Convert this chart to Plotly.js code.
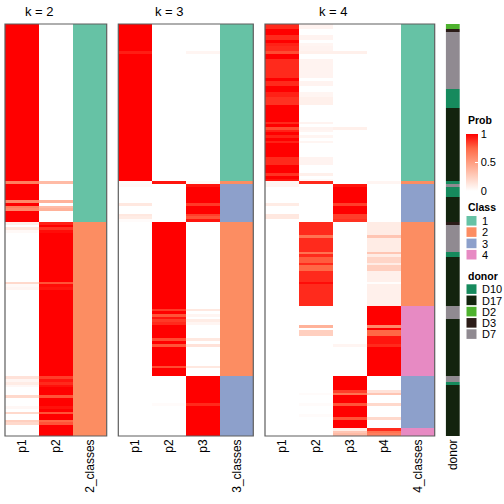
<!DOCTYPE html>
<html>
<head>
<meta charset="utf-8">
<script src="https://cdn.plot.ly/plotly-3.0.1.min.js"></script>
<style>html,body{margin:0;padding:0;background:#fff;}#chart{width:504px;height:504px;}</style>
</head>
<body>
<div id="chart"></div>
<script>
// ---------------- DATA (one value per sample row, top to bottom) ----------------
const k2_p1 = [
1,1,1,1,1,1,1,1,1,1,
1,1,1,1,1,1,1,1,1,1,
1,1,1,1,1,1,1,1,1,1,
1,1,1,1,1,1,1,1,1,1,
1,1,1,1,1,1,1,1,1,1,
1,1,1,1,1,1,1,1,0.65,1,
1,1,1,1,1,0.6,1,0.65,0.6,1,
1,1,1,0.08,0,0.12,0.03,0,0,0,
0,0,0,0,0,0,0,0,0,0,
0,0,0,0,0,0.2,0.03,0.05,0,0,
0,0,0,0,0,0,0,0,0,0,
0,0,0,0,0,0,0,0,0,0,
0,0,0,0,0,0,0,0,0,0,
0.15,0.05,0.1,0.04,0,0,0,0.2,0,0,
0,0.04,0,0.2,0,0,0.25,0.2,0,0,
0,0];
const k2_p2 = [
0,0,0,0,0,0,0,0,0,0,
0,0,0,0,0,0,0,0,0,0,
0,0,0,0,0,0,0,0,0,0,
0,0,0,0,0,0,0,0,0,0,
0,0,0,0,0,0,0,0,0,0,
0,0,0,0,0,0,0,0,0.35,0,
0,0,0,0,0,0.4,0,0.35,0.4,0,
0,0,0,0.92,1,0.88,0.97,1,1,1,
1,1,1,1,1,1,1,1,1,1,
1,1,1,1,1,0.8,0.97,0.95,1,1,
1,1,1,1,1,1,1,1,1,1,
1,1,1,1,1,1,1,1,1,1,
1,1,1,1,1,1,1,1,1,1,
0.85,0.95,0.9,0.96,1,1,1,0.8,1,1,
1,0.96,1,0.8,1,1,0.75,0.8,1,1,
1,1];
const k2_cls = [
1,1,1,1,1,1,1,1,1,1,
1,1,1,1,1,1,1,1,1,1,
1,1,1,1,1,1,1,1,1,1,
1,1,1,1,1,1,1,1,1,1,
1,1,1,1,1,1,1,1,1,1,
1,1,1,1,1,1,1,1,1,1,
1,1,1,1,1,1,1,1,1,1,
1,1,1,2,2,2,2,2,2,2,
2,2,2,2,2,2,2,2,2,2,
2,2,2,2,2,2,2,2,2,2,
2,2,2,2,2,2,2,2,2,2,
2,2,2,2,2,2,2,2,2,2,
2,2,2,2,2,2,2,2,2,2,
2,2,2,2,2,2,2,2,2,2,
2,2,2,2,2,2,2,2,2,2,
2,2];

const k3_p1 = [
1,1,1,1,1,1,1,1,1,1,
0.93,1,1,1,1,1,1,1,1,1,
1,1,1,1,1,1,1,1,1,1,
1,1,1,1,1,1,1,1,1,1,
1,1,1,1,1,1,1,1,1,1,
1,1,1,1,1,1,1,1,0.02,0.03,
0,0,0,0,0,0,0.12,0,0,0,
0.12,0.1,0.02,0,0,0,0,0,0,0,
0,0,0,0,0,0,0,0,0,0,
0,0,0,0,0,0,0,0,0,0,
0,0,0,0,0,0,0,0,0,0,
0,0,0,0,0,0,0,0,0,0,
0,0,0,0,0,0,0,0,0,0,
0,0,0,0,0,0,0,0,0,0,
0,0,0,0,0,0,0,0,0,0,
0,0];
const k3_p2 = [
0,0,0,0,0,0,0,0,0,0,
0,0,0,0,0,0,0,0,0,0,
0,0,0,0,0,0,0,0,0,0,
0,0,0,0,0,0,0,0,0,0,
0,0,0,0,0,0,0,0,0,0,
0,0,0,0,0,0,0,0,0.95,0,
0,0,0,0,0,0,0,0,0,0,
0,0,0,1,1,1,1,1,1,1,
1,1,1,1,1,1,1,1,1,1,
1,1,1,1,1,1,1,1,1,1,
1,1,1,1,1,0.86,1,0.8,0.95,0.86,
0.9,1,1,1,1,1,0.82,1,0.8,1,
1,1,1,1,1,1,0.82,1,1,1,
0,0,0,0,0,0,0,0,0,0,
0.02,0,0,0,0,0,0,0,0,0,
0,0];
const k3_p3 = [
0,0,0,0,0,0,0,0,0,0,
0.05,0,0,0,0,0,0,0,0,0,
0,0,0,0,0,0,0,0,0,0,
0,0,0,0,0,0,0,0,0,0,
0,0,0,0,0,0,0,0,0,0,
0,0,0,0,0,0,0,0,0.03,0.95,
1,1,1,1,1,1,0.86,1,1,1,
0.85,0.8,0.95,0,0,0,0,0,0,0,
0,0,0,0,0,0,0,0,0,0,
0,0,0,0,0,0,0,0,0,0,
0,0,0,0,0,0.12,0,0.05,0,0.1,
0.05,0,0,0,0,0,0.12,0,0.15,0,
0,0,0,0,0,0,0.12,0,0,0,
1,1,1,1,1,1,1,1,1,1,
0.9,1,1,1,1,1,1,1,1,1,
1,1];
const k3_cls = [
1,1,1,1,1,1,1,1,1,1,
1,1,1,1,1,1,1,1,1,1,
1,1,1,1,1,1,1,1,1,1,
1,1,1,1,1,1,1,1,1,1,
1,1,1,1,1,1,1,1,1,1,
1,1,1,1,1,1,1,1,2,3,
3,3,3,3,3,3,3,3,3,3,
3,3,3,2,2,2,2,2,2,2,
2,2,2,2,2,2,2,2,2,2,
2,2,2,2,2,2,2,2,2,2,
2,2,2,2,2,2,2,2,2,2,
2,2,2,2,2,2,2,2,2,2,
2,2,2,2,2,2,2,2,2,2,
3,3,3,3,3,3,3,3,3,3,
3,3,3,3,3,3,3,3,3,3,
3,3];

const k4_p1 = [
0.9,0.9,1,1,0.9,0.9,1,0.92,0.9,0.9,
0.82,1,1,0.9,0.9,0.9,0.9,0.9,0.9,0.9,
1,0.9,0.9,1,1,0.92,0.92,0.88,0.88,0.88,
1,1,1,1,1,1,0.9,1,0.82,0.92,
1,0.92,1,0.92,1,1,1,1,1,0.9,
0.9,0.9,1,1,1,0.88,1,0.95,0.05,0.05,
0,0,0,0,0,0,0.1,0,0,0,
0.12,0.12,0,0,0,0,0,0,0,0,
0,0,0,0,0,0,0,0,0,0,
0,0,0,0,0,0,0,0,0,0,
0,0,0,0,0,0,0,0,0,0,
0,0,0,0,0,0,0,0,0,0,
0,0,0,0,0,0,0,0,0,0,
0,0,0,0,0,0,0,0,0,0,
0,0,0,0,0,0,0,0,0,0,
0,0];
const k4_p2 = [
0.06,0.06,0,0,0.06,0.06,0,0.05,0.06,0.06,
0.08,0,0,0.06,0.06,0.06,0.06,0.06,0.06,0.06,
0,0.06,0.06,0,0,0.05,0.05,0.08,0.08,0.08,
0,0,0,0,0,0,0.06,0,0.06,0.05,
0,0.05,0,0.05,0,0,0,0,0,0.06,
0.06,0.06,0,0,0,0.08,0,0.03,0.9,0,
0,0,0,0,0,0,0,0,0,0,
0,0,0,0.9,0.9,0.9,0.9,0.9,0.7,0.9,
0.9,0.9,0.9,0.9,0.7,0.9,0.78,0.78,0.9,0.75,
0.75,0.9,0.9,0.9,0.9,0.97,0.9,0.9,0.9,0.9,
0.9,0.9,0.9,0.9,0,0,0,0,0,0,
0,0.4,0,0.25,0.25,0,0,0,0,0,
0,0,0,0,0,0,0,0,0,0,
0,0,0,0,0,0,0.02,0,0,0,
0.02,0,0,0,0.02,0,0,0,0,0,
0,0];
const k4_p3 = [
0,0,0,0,0,0,0,0,0,0,
0.08,0,0,0,0,0,0,0,0,0,
0,0,0,0,0,0,0,0,0,0,
0,0,0,0,0,0,0,0,0.08,0,
0,0,0,0,0,0,0,0,0,0,
0,0,0,0,0,0,0,0,0,0.95,
1,1,1,1,1,1,0.85,1,1,1,
0.85,0.85,0.88,0,0,0,0,0,0,0,
0,0,0,0,0,0,0,0,0,0,
0,0,0,0,0,0,0,0,0,0,
0,0,0,0,0,0,0,0,0,0,
0,0,0,0,0,0,0,0,0.05,0,
0,0,0,0,0,0,0,0,0,0,
1,1,1,1,1,0.85,0.7,1,1,1,
0.8,1,1,1,1,0.8,1,1,1,0.1,
0.3,0.35];
const k4_p4 = [
0,0,0,0,0,0,0,0,0,0,
0,0,0,0,0,0,0,0,0,0,
0,0,0,0,0,0,0,0,0,0,
0,0,0,0,0,0,0,0,0,0,
0,0,0,0,0,0,0,0,0,0,
0,0,0,0,0,0,0,0,0.05,0,
0,0,0,0,0,0,0,0,0,0,
0,0,0,0.1,0.1,0.1,0.1,0.1,0.3,0.1,
0.1,0.1,0.1,0.1,0.3,0.1,0.22,0.22,0.1,0.25,
0.25,0.08,0.08,0.08,0.08,0.01,0.08,0.08,0.08,0.08,
0.08,0.08,0.08,0.08,1,1,1,1,1,1,
1,0.6,1,0.75,0.75,0.95,0.95,0.95,0.9,1,
1,1,1,1,1,1,1,1,1,1,
0,0,0,0,0,0.15,0.3,0,0,0,
0.2,0,0,0,0,0.2,0,0,0,0.9,
0.7,0.65];
const k4_cls = [
1,1,1,1,1,1,1,1,1,1,
1,1,1,1,1,1,1,1,1,1,
1,1,1,1,1,1,1,1,1,1,
1,1,1,1,1,1,1,1,1,1,
1,1,1,1,1,1,1,1,1,1,
1,1,1,1,1,1,1,1,2,3,
3,3,3,3,3,3,3,3,3,3,
3,3,3,2,2,2,2,2,2,2,
2,2,2,2,2,2,2,2,2,2,
2,2,2,2,2,2,2,2,2,2,
2,2,2,2,4,4,4,4,4,4,
4,4,4,4,4,4,4,4,4,4,
4,4,4,4,4,4,4,4,4,4,
3,3,3,3,3,3,3,3,3,3,
3,3,3,3,3,3,3,3,3,4,
4,4];

const donor = [
"D2","D2","D3","D7","D7","D7","D7","D7","D7","D7",
"D7","D7","D7","D7","D7","D7","D7","D7","D7","D7",
"D7","D7","D7","D7","D10","D10","D10","D10","D10","D10",
"D10","D17","D17","D17","D17","D17","D17","D17","D17","D17",
"D17","D17","D17","D17","D17","D17","D17","D17","D17","D17",
"D17","D17","D17","D17","D17","D17","D17","D17","D10","D7",
"D10","D10","D10","D10","D17","D17","D17","D17","D17","D17",
"D17","D17","D17","D3","D7","D7","D7","D7","D7","D7",
"D7","D7","D7","D7","D10","D10","D17","D17","D17","D17",
"D17","D17","D17","D17","D17","D17","D17","D17","D17","D17",
"D17","D17","D17","D17","D7","D7","D7","D7","D7","D17",
"D17","D17","D17","D17","D17","D17","D17","D17","D17","D17",
"D17","D17","D17","D17","D17","D17","D17","D17","D17","D17",
"D7","D7","D10","D17","D17","D17","D17","D17","D17","D17",
"D17","D17","D17","D17","D17","D17","D17","D17","D17","D17",
"D17","D17"];

const classLabels = ["1","2","3","4"];
const classColors = ["#66C2A5","#FC8D62","#8DA0CB","#E78AC3"];
const donorLabels = ["D10","D17","D2","D3","D7"];
const donorColors = ["#168A5D","#13230E","#4EB22E","#2B1C18","#908A91"];
const probTicks = [0, 0.5, 1];

// ---------------- BUILD ----------------
const W = 504, H = 504;
const FONT = "Liberation Sans, Arial, Helvetica, sans-serif";
const rows = k2_p1.map((_, i) => i);
const mat = cols => rows.map(i => cols.map(c => c[i]));
const px = v => v / W;
const py = v => (H - v) / H;

const probScale = [[0,"#FFFFFF"],[0.25,"#FFCFBF"],[0.5,"#FF9E81"],[0.75,"#FF6846"],[1,"#FF0000"]];
function stepScale(colors) {
  const n = colors.length, s = [];
  colors.forEach((c, i) => { s.push([i / n, c]); s.push([(i + 1) / n, c]); });
  return s;
}
const classScale = stepScale(classColors);
const donorScale = stepScale(donorColors);
const donorIdx = donor.map(d => donorLabels.indexOf(d) + 1);

const base = {type: "heatmap", y: rows, yaxis: "y", hoverinfo: "skip", xgap: 0, ygap: 0};
const probTrace = (x, cols, ax, show) => Object.assign({}, base, {
  x: x, z: mat(cols), xaxis: ax, colorscale: probScale, zmin: 0, zmax: 1, showscale: show,
  colorbar: {
    x: px(466), xanchor: "left", xpad: 0, y: py(162.5), yanchor: "middle", ypad: 0,
    len: 57, lenmode: "pixels", thickness: 12, thicknessmode: "pixels",
    outlinewidth: 0, borderwidth: 0,
    tickvals: probTicks, ticktext: probTicks.map(String),
    ticks: "inside", tickcolor: "#ffffff", ticklen: 3, tickwidth: 1,
    tickfont: {family: FONT, size: 11, color: "#000"}
  }
});
const clsTrace = (label, vals, ax) => Object.assign({}, base, {
  x: [label], z: mat([vals]), xaxis: ax, colorscale: classScale,
  zmin: 0.5, zmax: classColors.length + 0.5, showscale: false
});

const data = [
  probTrace(["p1","p2"], [k2_p1, k2_p2], "x", true),
  clsTrace("2_classes", k2_cls, "x2"),
  probTrace(["p1","p2","p3"], [k3_p1, k3_p2, k3_p3], "x3", false),
  clsTrace("3_classes", k3_cls, "x4"),
  probTrace(["p1","p2","p3","p4"], [k4_p1, k4_p2, k4_p3, k4_p4], "x5", false),
  clsTrace("4_classes", k4_cls, "x6"),
  Object.assign({}, base, {x: ["donor"], z: mat([donorIdx]), xaxis: "x7",
    colorscale: donorScale, zmin: 0.5, zmax: donorColors.length + 0.5, showscale: false})
];

const TOP = 24, BOT = 436;
const xa = (l, r) => ({
  domain: [px(l), px(r)], anchor: "y", showgrid: false, zeroline: false, showline: false,
  ticks: "", tickangle: -90, fixedrange: true,
  tickfont: {family: FONT, size: 12, color: "#000"}
});

const panels = [[5, 106.7], [118.3, 253.3], [265, 434.7]];
const shapes = panels.map(p => ({
  type: "rect", xref: "paper", yref: "paper", x0: px(p[0]), x1: px(p[1]),
  y0: py(BOT), y1: py(TOP), line: {color: "#5e5e5e", width: 1.2}, fillcolor: "rgba(0,0,0,0)"
}));

const ann = [];
[["k = 2", 39], ["k = 3", 169.2], ["k = 4", 333]].forEach(t => ann.push({
  text: t[0], x: px(t[1]), y: py(11), xref: "paper", yref: "paper",
  xanchor: "center", yanchor: "middle", showarrow: false,
  font: {family: FONT, size: 13, color: "#000"}
}));
const legTitle = (txt, y) => ann.push({
  text: "<b>" + txt + "</b>", x: px(466), y: py(y), xref: "paper", yref: "paper",
  xanchor: "left", yanchor: "middle", showarrow: false,
  font: {family: FONT, size: 10.5, color: "#000"}
});
legTitle("Prob", 119.5);
legTitle("Class", 206.5);
legTitle("donor", 275.5);

function swatches(labels, colors, top, step) {
  labels.forEach((lab, i) => {
    const y0 = top + i * step;
    shapes.push({type: "rect", xref: "paper", yref: "paper",
      x0: px(466.5), x1: px(476.5), y0: py(y0 + 9.6), y1: py(y0),
      fillcolor: colors[i], line: {width: 0}});
    ann.push({text: lab, x: px(479.5), y: py(y0 + 5), xref: "paper", yref: "paper",
      xanchor: "left", yanchor: "middle", showarrow: false,
      font: {family: FONT, size: 11, color: "#000"}});
  });
}
swatches(classLabels, classColors, 216, 11.3);
swatches(donorLabels, donorColors, 284.3, 11.25);

const layout = {
  width: W, height: H, margin: {l: 0, r: 0, t: 0, b: 0, pad: 0},
  paper_bgcolor: "#fff", plot_bgcolor: "rgba(0,0,0,0)", showlegend: false,
  font: {family: FONT, size: 12, color: "#000"},
  xaxis: xa(5, 73), xaxis2: xa(73, 106.7),
  xaxis3: xa(118.3, 220), xaxis4: xa(220, 253.3),
  xaxis5: xa(265, 401), xaxis6: xa(401, 434.7),
  xaxis7: xa(445.7, 460),
  yaxis: {domain: [py(BOT), py(TOP)], range: [rows.length - 0.5, -0.5],
    visible: false, fixedrange: true},
  shapes: shapes, annotations: ann
};

Plotly.newPlot("chart", data, layout, {staticPlot: true, displayModeBar: false});
</script>
</body>
</html>
